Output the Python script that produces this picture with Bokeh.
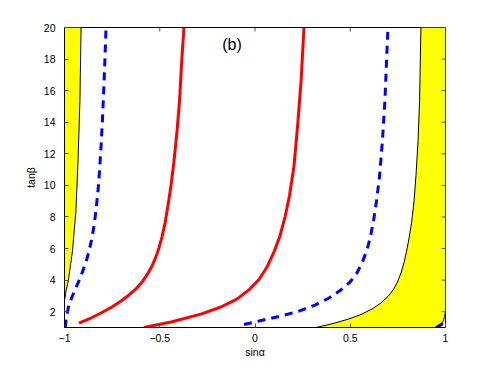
import math
from bokeh.plotting import figure
from bokeh.models import Range1d, FixedTicker
from bokeh.core.properties import value
from bokeh.embed import file_html
from bokeh.resources import INLINE

# ---- data ----
x_ticks = [-1, -0.5, 0, 0.5, 1]
x_tick_labels = ["\u22121", "\u22120.5", "0", "0.5", "1"]
y_ticks = [2, 4, 6, 8, 10, 12, 14, 16, 18, 20]

# left excluded region boundary (black)
left_bound_tanb = [2.68, 3.31, 3.95, 4.90, 5.85, 7.12, 8.39, 11.56, 15.37, 20.0]
left_bound_sina = [-1.0, -0.992, -0.980, -0.969, -0.958, -0.949, -0.940, -0.929, -0.919, -0.913]

# right excluded region boundary (black)
right_bound_tanb = [1.0, 1.25, 1.52, 1.82, 2.17, 2.55, 2.96, 3.41, 3.88, 4.45, 5.09, 5.79,
                    6.61, 7.63, 9.02, 10.61, 12.83, 15.37, 20.0]
right_bound_sina = [0.320, 0.409, 0.488, 0.556, 0.614, 0.661, 0.698, 0.727, 0.748, 0.766, 0.782, 0.795,
                    0.808, 0.822, 0.835, 0.845, 0.856, 0.864, 0.871]

# small corner boundary near (1, 1)
corner_bound_tanb = [1.0, 1.3, 1.7, 2.0]
corner_bound_sina = [0.965, 0.985, 0.995, 1.0]

# blue dashed curves
blue1_tanb = [1.0, 1.66, 2.30, 2.87, 3.38, 3.95, 4.52, 5.15, 5.85, 6.55, 7.44, 8.39, 9.66,
              10.93, 12.51, 14.10, 16.32, 18.22, 20.0]
blue1_sina = [-0.996, -0.990, -0.979, -0.963, -0.945, -0.924, -0.906, -0.887, -0.871, -0.858, -0.845, -0.835, -0.824,
              -0.816, -0.808, -0.801, -0.793, -0.787, -0.782]

blue2_tanb = [1.19, 1.44, 1.73, 2.04, 2.42, 2.87, 3.38, 3.88, 4.45, 5.15, 5.91, 6.74, 7.75,
              9.02, 10.61, 12.83, 15.37, 20.0]
blue2_sina = [-0.058, 0.032, 0.137, 0.231, 0.315, 0.389, 0.451, 0.499, 0.535, 0.564, 0.588, 0.606, 0.622,
              0.638, 0.654, 0.669, 0.682, 0.698]

blue3_tanb = [1.0, 1.2, 1.5]
blue3_sina = [0.95, 0.98, 0.995]

# red solid curves
red1_tanb = [1.28, 1.60, 1.92, 2.30, 2.68, 3.06, 3.44, 3.88, 4.33, 4.83, 5.41, 6.04, 6.74,
             7.63, 8.71, 9.97, 11.56, 13.46, 15.37, 17.59, 20.0]
red1_sina = [-0.924, -0.861, -0.808, -0.751, -0.703, -0.661, -0.625, -0.593, -0.567, -0.543, -0.522, -0.504, -0.488,
             -0.472, -0.457, -0.441, -0.425, -0.409, -0.396, -0.386, -0.373]

red2_tanb = [1.0, 1.35, 1.85, 2.30, 2.80, 3.38, 4.04, 4.83, 5.79, 6.80, 8.01, 9.34, 11.24,
             14.10, 16.64, 20.0]
red2_sina = [-0.583, -0.441, -0.284, -0.179, -0.095, -0.032, 0.021, 0.063, 0.100, 0.131, 0.158, 0.181, 0.205,
             0.226, 0.242, 0.257]

FONT = "Liberation Sans"

p = figure(frame_width=381, frame_height=300,
           min_border_left=64, min_border_top=27, min_border_right=30, min_border_bottom=36,
           x_range=Range1d(-1, 1), y_range=Range1d(1, 20),
           output_backend="svg", toolbar_location=None,
           background_fill_color="white", border_fill_color="white")
p.grid.visible = False
p.outline_line_color = "black"
p.outline_line_width = 1

# yellow excluded regions
left_patch_x = [-1.0] + left_bound_sina + [-1.0]
left_patch_y = [left_bound_tanb[0]] + left_bound_tanb + [20.0]
p.patch(left_patch_x, left_patch_y, fill_color="#FFFF00", line_color=None)

right_patch_x = right_bound_sina + [1.0, 1.0] + corner_bound_sina[::-1]
right_patch_y = right_bound_tanb + [20.0, corner_bound_tanb[-1]] + corner_bound_tanb[::-1]
p.patch(right_patch_x, right_patch_y, fill_color="#FFFF00", line_color=None)

p.line(left_bound_sina, left_bound_tanb, line_color="black", line_width=1)
p.line(right_bound_sina, right_bound_tanb, line_color="black", line_width=1)
p.line(corner_bound_sina, corner_bound_tanb, line_color="black", line_width=1)

for xs, ys in [(blue1_sina, blue1_tanb), (blue2_sina, blue2_tanb), (blue3_sina, blue3_tanb)]:
    p.line(xs, ys, line_color="#0000FF", line_width=3, line_dash="8 6", line_join="round")

for xs, ys in [(red1_sina, red1_tanb), (red2_sina, red2_tanb)]:
    p.line(xs, ys, line_color="#FF0000", line_width=3, line_join="round")

p.text(x=[-0.121], y=[18.92], text=["(b)"], text_align="center", text_baseline="middle",
       text_font=value(FONT), text_font_size="16px", text_color="black")

# inward ticks on top and right (box)
p.ray(x=x_ticks, y=[20.0] * len(x_ticks), length=4, length_units="screen",
      angle=-math.pi / 2, line_color="#555555", line_width=1)
p.ray(x=[1.0] * len(y_ticks), y=y_ticks, length=4, length_units="screen",
      angle=math.pi, line_color="#555555", line_width=1)

# axes
xa = p.xaxis[0]
xa.ticker = FixedTicker(ticks=x_ticks)
xa.major_label_overrides = {t: l for t, l in zip(x_ticks, x_tick_labels)}
ya = p.yaxis[0]
ya.ticker = FixedTicker(ticks=y_ticks)
xa.axis_label = "sin\u03b1"
ya.axis_label = "tan\u03b2"

for ax in (xa, ya):
    ax.major_tick_in = 4
    ax.major_tick_out = 0
    ax.minor_tick_in = 0
    ax.minor_tick_out = 0
    ax.major_tick_line_color = "#555555"
    ax.axis_line_color = "black"
    ax.major_label_text_font = FONT
    ax.major_label_text_font_size = "10.5px"
    ax.major_label_text_color = "black"
    ax.axis_label_text_font = FONT
    ax.axis_label_text_font_size = "10.5px"
    ax.axis_label_text_font_style = "normal"
    ax.axis_label_text_color = "black"
xa.major_label_standoff = 6
xa.axis_label_standoff = 1
ya.major_label_standoff = 9
ya.axis_label_standoff = 4

open("out.html", "w").write(file_html(p, INLINE))
